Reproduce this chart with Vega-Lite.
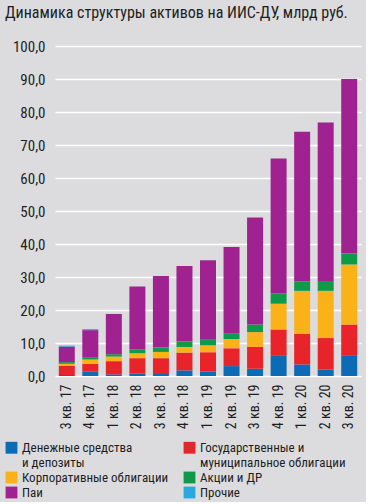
{
  "$schema": "https://vega.github.io/schema/vega-lite/v6.json",
  "width": 306,
  "height": 330,
  "padding": {"left": 5, "right": 5, "top": 5, "bottom": 2},
  "background": "#dcdcde",
  "title": {
    "text": "Динамика структуры активов на ИИС-ДУ, млрд руб.",
    "anchor": "start",
    "fontSize": 16,
    "fontWeight": "normal",
    "font": "Liberation Sans Narrow, Roboto Condensed, Roboto, sans-serif",
    "color": "#1e1e1e",
    "offset": 18
  },
  "datasets": {
    "ord": [
      {"k": "Денежные средства и депозиты", "i": 0},
      {"k": "Государственные и муниципальное облигации", "i": 1},
      {"k": "Корпоративные облигации", "i": 2},
      {"k": "Акции и ДР", "i": 3},
      {"k": "Паи", "i": 4},
      {"k": "Прочие", "i": 5}
    ]
  },
  "data": {
    "values": [
      {"q": "3 кв. 17", "Денежные средства и депозиты": 0.3, "Государственные и муниципальное облигации": 2.8, "Корпоративные облигации": 0.6, "Акции и ДР": 0.5, "Паи": 4.7, "Прочие": 0.3},
      {"q": "4 кв. 17", "Денежные средства и депозиты": 1.3, "Государственные и муниципальное облигации": 2.4, "Корпоративные облигации": 1.3, "Акции и ДР": 0.7, "Паи": 8.2, "Прочие": 0.3},
      {"q": "1 кв. 18", "Денежные средства и депозиты": 0.5, "Государственные и муниципальное облигации": 4.0, "Корпоративные облигации": 1.4, "Акции и ДР": 0.7, "Паи": 12.2, "Прочие": 0},
      {"q": "2 кв. 18", "Денежные средства и депозиты": 0.8, "Государственные и муниципальное облигации": 4.6, "Корпоративные облигации": 1.5, "Акции и ДР": 1.2, "Паи": 19.0, "Прочие": 0},
      {"q": "3 кв. 18", "Денежные средства и депозиты": 0.6, "Государственные и муниципальное облигации": 4.8, "Корпоративные облигации": 1.9, "Акции и ДР": 1.3, "Паи": 21.7, "Прочие": 0},
      {"q": "4 кв. 18", "Денежные средства и депозиты": 1.7, "Государственные и муниципальное облигации": 5.4, "Корпоративные облигации": 1.7, "Акции и ДР": 1.7, "Паи": 22.8, "Прочие": 0},
      {"q": "1 кв. 19", "Денежные средства и депозиты": 1.4, "Государственные и муниципальное облигации": 5.8, "Корпоративные облигации": 2.1, "Акции и ДР": 1.7, "Паи": 24.1, "Прочие": 0},
      {"q": "2 кв. 19", "Денежные средства и депозиты": 3.0, "Государственные и муниципальное облигации": 5.4, "Корпоративные облигации": 2.8, "Акции и ДР": 1.8, "Паи": 26.1, "Прочие": 0},
      {"q": "3 кв. 19", "Денежные средства и депозиты": 2.2, "Государственные и муниципальное облигации": 6.6, "Корпоративные облигации": 4.5, "Акции и ДР": 2.3, "Паи": 32.4, "Прочие": 0},
      {"q": "4 кв. 19", "Денежные средства и депозиты": 6.1, "Государственные и муниципальное облигации": 8.0, "Корпоративные облигации": 7.8, "Акции и ДР": 3.1, "Паи": 40.9, "Прочие": 0},
      {"q": "1 кв. 20", "Денежные средства и депозиты": 3.5, "Государственные и муниципальное облигации": 9.3, "Корпоративные облигации": 13.0, "Акции и ДР": 2.9, "Паи": 45.3, "Прочие": 0},
      {"q": "2 кв. 20", "Денежные средства и депозиты": 2.0, "Государственные и муниципальное облигации": 9.5, "Корпоративные облигации": 14.3, "Акции и ДР": 3.0, "Паи": 48.0, "Прочие": 0},
      {"q": "3 кв. 20", "Денежные средства и депозиты": 6.1, "Государственные и муниципальное облигации": 9.5, "Корпоративные облигации": 18.2, "Акции и ДР": 3.3, "Паи": 52.9, "Прочие": 0}
    ]
  },
  "transform": [
    {"fold": ["Денежные средства и депозиты", "Государственные и муниципальное облигации", "Корпоративные облигации", "Акции и ДР", "Паи", "Прочие"], "as": ["k", "v"]},
    {"lookup": "k", "from": {"data": {"name": "ord"}, "key": "k", "fields": ["i"]}}
  ],
  "mark": {"type": "bar", "width": 16},
  "encoding": {
    "x": {
      "field": "q",
      "type": "nominal",
      "sort": null,
      "axis": {
        "title": null,
        "labelAngle": 270,
        "labelFontSize": 14,
        "labelPadding": 8,
        "ticks": false,
        "domain": false,
        "labelColor": "#1e1e1e"
      }
    },
    "y": {
      "field": "v",
      "type": "quantitative",
      "stack": "zero",
      "scale": {"domain": [0, 100], "nice": false},
      "axis": {
        "title": null,
        "values": [0, 10, 20, 30, 40, 50, 60, 70, 80, 90, 100],
        "labelExpr": "replace(format(datum.value, '.1f'), '.', ',')",
        "labelFontSize": 15,
        "labelPadding": 10,
        "ticks": false,
        "domain": false,
        "grid": true,
        "gridColor": "#ffffff",
        "gridWidth": 1.5,
        "gridOpacity": 1,
        "labelColor": "#1e1e1e"
      }
    },
    "order": {"field": "i", "type": "quantitative", "sort": "ascending"},
    "color": {
      "field": "k",
      "type": "nominal",
      "scale": {
        "domain": ["Денежные средства и депозиты", "Государственные и муниципальное облигации", "Корпоративные облигации", "Акции и ДР", "Паи", "Прочие"],
        "range": ["#0b6bb4", "#e8232a", "#fbb218", "#0f9a4a", "#9f2290", "#2aa8e0"]
      },
      "legend": {
        "title": null,
        "orient": "none",
        "legendX": -50,
        "legendY": 395,
        "direction": "horizontal",
        "columns": 2,
        "symbolType": "square",
        "symbolSize": 140,
        "symbolStrokeWidth": 0,
        "labelFontSize": 13,
        "labelLimit": 320,
        "labelColor": "#1e1e1e",
        "labelExpr": "datum.label == 'Государственные и муниципальное облигации' ? ['Государственные и', 'муниципальное облигации'] : datum.label == 'Денежные средства и депозиты' ? ['Денежные средства', 'и депозиты'] : datum.label",
        "columnPadding": 14,
        "rowPadding": 1
      }
    }
  },
  "config": {
    "font": "Liberation Sans Narrow, Roboto Condensed, Roboto, sans-serif",
    "view": {"stroke": null},
    "axis": {"labelFont": "Liberation Sans Narrow, Roboto Condensed, Roboto, sans-serif"},
    "legend": {"labelFont": "Liberation Sans Narrow, Roboto Condensed, Roboto, sans-serif"}
  }
}
